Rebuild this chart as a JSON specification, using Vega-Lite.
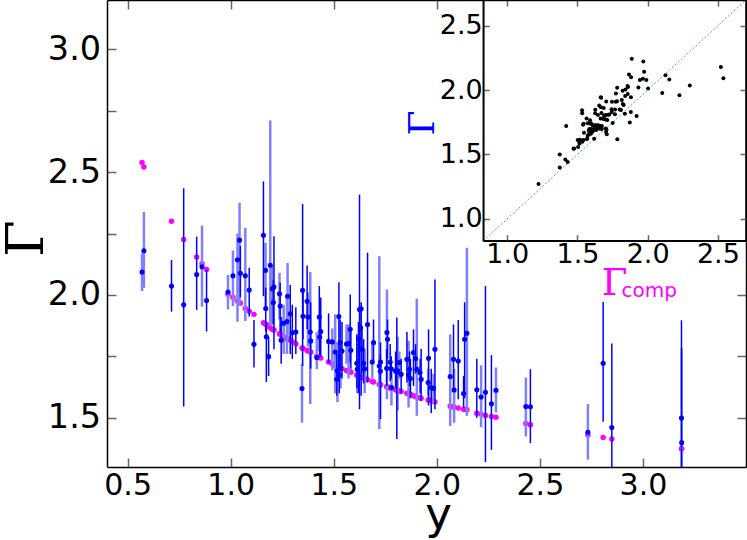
{
  "$schema": "https://vega.github.io/schema/vega-lite/v6.json",
  "width": 639,
  "height": 467,
  "autosize": "none",
  "padding": {"left": 107, "top": 0, "right": 1, "bottom": 73},
  "background": "white",
  "config": {"view": {"stroke": null}, "axis": {"grid": false, "labelFont": "DejaVu Sans", "labelColor": "black", "titleFontWeight": "normal", "labelFlush": false, "labelOverlap": false}},
  "datasets": {
    "d": [
      {"y":0.570,"gc":2.539,"g":2.093,"lo":2.016,"hi":2.169,"c":"l"},
      {"y":0.579,"gc":2.521,"g":2.180,"lo":2.029,"hi":2.338,"c":"l"},
      {"y":0.713,"gc":2.300,"g":2.036,"lo":1.932,"hi":2.142,"c":"d"},
      {"y":0.772,"gc":2.226,"g":1.960,"lo":1.546,"hi":2.434,"c":"d"},
      {"y":0.835,"gc":2.154,"g":2.083,"lo":1.939,"hi":2.237,"c":"d"},
      {"y":0.861,"gc":2.127,"g":2.115,"lo":1.952,"hi":2.282,"c":"l"},
      {"y":0.883,"gc":2.104,"g":1.977,"lo":1.851,"hi":2.104,"c":"d"},
      {"y":0.987,"gc":2.003,"g":2.012,"lo":1.941,"hi":2.081,"c":"l"},
      {"y":1.011,"gc":1.991,"g":2.078,"lo":1.955,"hi":2.181,"c":"l"},
      {"y":1.033,"gc":1.975,"g":2.143,"lo":1.891,"hi":2.250,"c":"l"},
      {"y":1.043,"gc":1.969,"g":2.223,"lo":1.955,"hi":2.375,"c":"l"},
      {"y":1.047,"gc":1.966,"g":2.088,"lo":1.990,"hi":2.200,"c":"d"},
      {"y":1.071,"gc":1.945,"g":2.078,"lo":1.894,"hi":2.273,"c":"l"},
      {"y":1.090,"gc":1.934,"g":2.020,"lo":1.912,"hi":2.111,"c":"d"},
      {"y":1.113,"gc":1.921,"g":1.799,"lo":1.705,"hi":1.898,"c":"d"},
      {"y":1.159,"gc":1.887,"g":2.243,"lo":1.995,"hi":2.462,"c":"d"},
      {"y":1.169,"gc":1.882,"g":2.100,"lo":1.941,"hi":2.212,"c":"l"},
      {"y":1.170,"gc":1.881,"g":1.945,"lo":1.850,"hi":2.030,"c":"d"},
      {"y":1.173,"gc":1.880,"g":1.830,"lo":1.646,"hi":1.887,"c":"d"},
      {"y":1.184,"gc":1.873,"g":1.749,"lo":1.670,"hi":1.830,"c":"d"},
      {"y":1.192,"gc":1.867,"g":2.121,"lo":1.874,"hi":2.710,"c":"l"},
      {"y":1.202,"gc":1.860,"g":2.025,"lo":1.880,"hi":2.120,"c":"l"},
      {"y":1.210,"gc":1.857,"g":2.032,"lo":1.779,"hi":2.239,"c":"d"},
      {"y":1.207,"gc":1.858,"g":1.969,"lo":1.880,"hi":2.060,"c":"d"},
      {"y":1.237,"gc":1.842,"g":2.005,"lo":1.900,"hi":2.090,"c":"l"},
      {"y":1.240,"gc":1.840,"g":1.955,"lo":1.850,"hi":2.050,"c":"d"},
      {"y":1.245,"gc":1.838,"g":1.816,"lo":1.720,"hi":1.910,"c":"d"},
      {"y":1.257,"gc":1.829,"g":1.885,"lo":1.760,"hi":1.960,"c":"l"},
      {"y":1.273,"gc":1.823,"g":1.892,"lo":1.760,"hi":2.000,"c":"l"},
      {"y":1.276,"gc":1.822,"g":1.995,"lo":1.820,"hi":2.130,"c":"l"},
      {"y":1.289,"gc":1.816,"g":1.923,"lo":1.760,"hi":2.040,"c":"d"},
      {"y":1.299,"gc":1.810,"g":1.846,"lo":1.740,"hi":1.960,"c":"d"},
      {"y":1.316,"gc":1.801,"g":1.849,"lo":1.760,"hi":1.950,"c":"d"},
      {"y":1.346,"gc":1.784,"g":1.619,"lo":1.480,"hi":1.720,"c":"l"},
      {"y":1.349,"gc":1.783,"g":2.019,"lo":1.711,"hi":2.370,"c":"d"},
      {"y":1.351,"gc":1.782,"g":1.913,"lo":1.820,"hi":2.020,"c":"d"},
      {"y":1.371,"gc":1.774,"g":1.974,"lo":1.860,"hi":2.120,"c":"d"},
      {"y":1.375,"gc":1.773,"g":1.910,"lo":1.790,"hi":2.010,"c":"l"},
      {"y":1.386,"gc":1.768,"g":1.849,"lo":1.556,"hi":2.093,"c":"l"},
      {"y":1.388,"gc":1.767,"g":1.813,"lo":1.700,"hi":1.970,"c":"d"},
      {"y":1.418,"gc":1.751,"g":1.745,"lo":1.698,"hi":1.848,"c":"l"},
      {"y":1.430,"gc":1.746,"g":1.910,"lo":1.772,"hi":2.036,"c":"d"},
      {"y":1.432,"gc":1.745,"g":1.829,"lo":1.750,"hi":1.920,"c":"d"},
      {"y":1.437,"gc":1.743,"g":1.851,"lo":1.750,"hi":1.990,"c":"d"},
      {"y":1.475,"gc":1.727,"g":1.811,"lo":1.722,"hi":1.925,"c":"d"},
      {"y":1.493,"gc":1.720,"g":1.809,"lo":1.693,"hi":1.863,"c":"l"},
      {"y":1.507,"gc":1.713,"g":1.768,"lo":1.600,"hi":1.921,"c":"l"},
      {"y":1.515,"gc":1.709,"g":1.657,"lo":1.590,"hi":1.760,"c":"d"},
      {"y":1.518,"gc":1.707,"g":1.692,"lo":1.564,"hi":1.807,"c":"l"},
      {"y":1.525,"gc":1.705,"g":1.912,"lo":1.684,"hi":2.052,"c":"d"},
      {"y":1.527,"gc":1.704,"g":1.675,"lo":1.600,"hi":1.760,"c":"d"},
      {"y":1.531,"gc":1.703,"g":1.806,"lo":1.700,"hi":1.900,"c":"d"},
      {"y":1.533,"gc":1.702,"g":1.702,"lo":1.620,"hi":1.790,"c":"l"},
      {"y":1.540,"gc":1.701,"g":1.772,"lo":1.660,"hi":1.890,"c":"d"},
      {"y":1.562,"gc":1.693,"g":1.800,"lo":1.720,"hi":1.880,"c":"l"},
      {"y":1.572,"gc":1.690,"g":1.802,"lo":1.660,"hi":1.880,"c":"l"},
      {"y":1.580,"gc":1.687,"g":1.860,"lo":1.725,"hi":2.002,"c":"d"},
      {"y":1.583,"gc":1.686,"g":1.775,"lo":1.700,"hi":1.860,"c":"d"},
      {"y":1.612,"gc":1.674,"g":1.722,"lo":1.620,"hi":1.840,"c":"d"},
      {"y":1.614,"gc":1.673,"g":1.698,"lo":1.600,"hi":1.800,"c":"l"},
      {"y":1.620,"gc":1.671,"g":1.822,"lo":1.600,"hi":1.890,"c":"d"},
      {"y":1.625,"gc":1.669,"g":1.941,"lo":1.535,"hi":2.408,"c":"d"},
      {"y":1.630,"gc":1.667,"g":1.867,"lo":1.770,"hi":1.950,"c":"l"},
      {"y":1.633,"gc":1.666,"g":1.944,"lo":1.590,"hi":1.970,"c":"d"},
      {"y":1.637,"gc":1.665,"g":1.779,"lo":1.680,"hi":1.870,"c":"d"},
      {"y":1.645,"gc":1.662,"g":1.722,"lo":1.640,"hi":1.820,"c":"d"},
      {"y":1.650,"gc":1.660,"g":1.700,"lo":1.600,"hi":1.780,"c":"l"},
      {"y":1.664,"gc":1.655,"g":1.880,"lo":1.644,"hi":2.172,"c":"d"},
      {"y":1.687,"gc":1.648,"g":1.727,"lo":1.660,"hi":1.800,"c":"l"},
      {"y":1.693,"gc":1.646,"g":1.806,"lo":1.730,"hi":1.900,"c":"d"},
      {"y":1.721,"gc":1.637,"g":1.711,"lo":1.454,"hi":2.158,"c":"l"},
      {"y":1.727,"gc":1.635,"g":1.727,"lo":1.495,"hi":1.807,"c":"d"},
      {"y":1.726,"gc":1.635,"g":1.690,"lo":1.620,"hi":1.760,"c":"d"},
      {"y":1.758,"gc":1.627,"g":1.847,"lo":1.576,"hi":2.022,"c":"l"},
      {"y":1.761,"gc":1.626,"g":1.820,"lo":1.740,"hi":1.900,"c":"d"},
      {"y":1.757,"gc":1.627,"g":1.702,"lo":1.630,"hi":1.780,"c":"d"},
      {"y":1.774,"gc":1.621,"g":1.727,"lo":1.650,"hi":1.800,"c":"d"},
      {"y":1.779,"gc":1.620,"g":1.700,"lo":1.660,"hi":1.750,"c":"d"},
      {"y":1.780,"gc":1.619,"g":1.623,"lo":1.550,"hi":1.700,"c":"l"},
      {"y":1.800,"gc":1.614,"g":1.691,"lo":1.620,"hi":1.770,"c":"d"},
      {"y":1.806,"gc":1.612,"g":1.687,"lo":1.414,"hi":1.908,"c":"d"},
      {"y":1.810,"gc":1.611,"g":1.691,"lo":1.530,"hi":1.830,"c":"l"},
      {"y":1.818,"gc":1.609,"g":1.725,"lo":1.660,"hi":1.770,"c":"l"},
      {"y":1.827,"gc":1.607,"g":1.677,"lo":1.600,"hi":1.740,"c":"d"},
      {"y":1.855,"gc":1.600,"g":1.738,"lo":1.644,"hi":1.849,"c":"d"},
      {"y":1.863,"gc":1.598,"g":1.675,"lo":1.542,"hi":1.813,"c":"l"},
      {"y":1.868,"gc":1.597,"g":1.698,"lo":1.630,"hi":1.770,"c":"d"},
      {"y":1.872,"gc":1.596,"g":1.660,"lo":1.580,"hi":1.740,"c":"d"},
      {"y":1.887,"gc":1.590,"g":1.766,"lo":1.630,"hi":1.860,"c":"d"},
      {"y":1.897,"gc":1.587,"g":1.741,"lo":1.680,"hi":1.800,"c":"d"},
      {"y":1.903,"gc":1.585,"g":1.698,"lo":1.508,"hi":1.985,"c":"l"},
      {"y":1.919,"gc":1.581,"g":1.684,"lo":1.600,"hi":1.740,"c":"d"},
      {"y":1.924,"gc":1.580,"g":1.657,"lo":1.570,"hi":1.780,"c":"d"},
      {"y":1.958,"gc":1.573,"g":1.644,"lo":1.590,"hi":1.700,"c":"l"},
      {"y":1.960,"gc":1.573,"g":1.742,"lo":1.550,"hi":1.860,"c":"d"},
      {"y":1.973,"gc":1.570,"g":1.623,"lo":1.520,"hi":1.700,"c":"d"},
      {"y":1.984,"gc":1.567,"g":1.620,"lo":1.560,"hi":1.680,"c":"l"},
      {"y":1.991,"gc":1.565,"g":1.779,"lo":1.535,"hi":2.063,"c":"d"},
      {"y":2.065,"gc":1.547,"g":1.668,"lo":1.467,"hi":1.840,"c":"l"},
      {"y":2.081,"gc":1.544,"g":1.738,"lo":1.610,"hi":1.880,"c":"d"},
      {"y":2.084,"gc":1.543,"g":1.613,"lo":1.480,"hi":1.700,"c":"l"},
      {"y":2.104,"gc":1.540,"g":1.731,"lo":1.576,"hi":1.898,"c":"d"},
      {"y":2.130,"gc":1.535,"g":1.599,"lo":1.540,"hi":1.670,"c":"d"},
      {"y":2.135,"gc":1.534,"g":1.820,"lo":1.580,"hi":1.970,"c":"d"},
      {"y":2.146,"gc":1.533,"g":1.844,"lo":1.508,"hi":2.192,"c":"l"},
      {"y":2.194,"gc":1.519,"g":1.614,"lo":1.500,"hi":1.740,"c":"d"},
      {"y":2.215,"gc":1.515,"g":1.585,"lo":1.462,"hi":1.714,"c":"l"},
      {"y":2.236,"gc":1.510,"g":1.604,"lo":1.320,"hi":2.036,"c":"d"},
      {"y":2.265,"gc":1.505,"g":1.557,"lo":1.370,"hi":1.755,"c":"d"},
      {"y":2.287,"gc":1.502,"g":1.612,"lo":1.522,"hi":1.705,"c":"l"},
      {"y":2.432,"gc":1.477,"g":1.546,"lo":1.424,"hi":1.664,"c":"l"},
      {"y":2.454,"gc":1.472,"g":1.545,"lo":1.397,"hi":1.698,"c":"d"},
      {"y":2.733,"gc":1.430,"g":1.441,"lo":1.330,"hi":1.556,"c":"l"},
      {"y":2.807,"gc":1.420,"g":1.722,"lo":1.484,"hi":1.971,"c":"d"},
      {"y":2.849,"gc":1.414,"g":1.461,"lo":1.250,"hi":1.802,"c":"d"},
      {"y":3.187,"gc":1.374,"g":1.499,"lo":1.250,"hi":1.897,"c":"d"},
      {"y":3.188,"gc":1.374,"g":1.399,"lo":1.250,"hi":1.783,"c":"l"},
      {"y":4.600,"gc":1.223,"g":1.271,"lo":1.200,"hi":1.350,"c":"d"}
    ]
  },
  "layer": [
    {
      "data": {"name": "d"},
      "layer": [
        {
          "mark": {"type": "point", "filled": true, "size": 30, "color": "#ff00ff", "opacity": 1, "clip": true},
          "encoding": {
            "x": {"field": "y", "type": "quantitative", "scale": {"domain": [0.4, 3.5], "nice": false, "zero": false},
              "axis": {"orient": "bottom", "values": [0.5, 1, 1.5, 2, 2.5, 3], "format": ".1f", "tickSize": -9, "tickColor": "#666", "tickWidth": 1.5, "domainColor": "black", "domainWidth": 1.5, "labelFontSize": 30, "labelPadding": 12, "title": "y", "titleFont": "DejaVu Sans", "titleFontSize": 45, "titleColor": "black", "titleX": 331, "titleY": 61, "titleBaseline": "alphabetic", "titleAlign": "center", "zindex": 0}},
            "y": {"field": "gc", "type": "quantitative", "scale": {"domain": [1.3, 3.2], "nice": false, "zero": false},
              "axis": {"orient": "left", "values": [1.5, 1.75, 2, 2.25, 2.5, 2.75, 3], "labelExpr": "datum.value % 0.5 == 0 ? format(datum.value, '.1f') : ''", "tickSize": -9, "tickColor": "#666", "tickWidth": 1.5, "domainColor": "black", "domainWidth": 1.5, "labelFontSize": 33.5, "labelPadding": 15.4, "title": "Γ", "titleFont": "DejaVu Serif", "titleFontSize": 53, "titleColor": "black", "titleAngle": 270, "titleX": -65, "titleY": 238, "titleBaseline": "alphabetic", "titleAlign": "center", "zindex": 0}}
          }
        },
        {
          "transform": [{"filter": "datum.c == 'l'"}],
          "mark": {"type": "rule", "clip": true, "color": "#8080ff", "strokeWidth": 2.5},
          "encoding": {"x": {"field": "y", "type": "quantitative"}, "y": {"field": "lo", "type": "quantitative"}, "y2": {"field": "hi"}}
        },
        {
          "transform": [{"filter": "datum.c == 'd'"}],
          "mark": {"type": "rule", "clip": true, "color": "#0000ff", "strokeWidth": 1.5},
          "encoding": {"x": {"field": "y", "type": "quantitative"}, "y": {"field": "lo", "type": "quantitative"}, "y2": {"field": "hi"}}
        },
        {
          "mark": {"type": "point", "filled": true, "size": 26, "color": "#0000ff", "opacity": 1, "clip": true},
          "encoding": {"x": {"field": "y", "type": "quantitative"}, "y": {"field": "g", "type": "quantitative"}}
        }
      ]
    },
    {
      "data": {"name": "d"},
      "mark": {"type": "point", "opacity": 0},
      "encoding": {
        "x": {"field": "y", "type": "quantitative", "scale": {"domain": [0.4, 3.5], "nice": false, "zero": false},
          "axis": {"orient": "top", "values": [0.5, 1, 1.5, 2, 2.5, 3], "labels": false, "tickSize": -9, "tickColor": "#666", "tickWidth": 1.5, "domainColor": "black", "domainWidth": 1.5, "title": null, "zindex": 0}},
        "y": {"field": "g", "type": "quantitative", "scale": {"domain": [1.3, 3.2], "nice": false, "zero": false},
          "axis": {"orient": "right", "values": [1.5, 1.75, 2, 2.25, 2.5, 2.75, 3], "labels": false, "tickSize": -9, "tickColor": "#666", "tickWidth": 1.5, "domainColor": "black", "domainWidth": 1.5, "title": null, "zindex": 0}}
      }
    },
    {
      "layer": [
        {
          "data": {"values": [{"frame": "inset"}]},
          "mark": {"type": "rect", "fill": "white", "stroke": "black", "strokeWidth": 1.5},
          "encoding": {
            "x": {"datum": 0.83, "type": "quantitative", "scale": {"domain": [0.83, 2.7], "range": [376.3, 639], "nice": false, "zero": false},
              "axis": {"orient": "bottom", "offset": -226.3, "values": [1, 1.5, 2, 2.5], "format": ".1f", "tickSize": -6, "tickColor": "#666", "tickWidth": 1.5, "domainColor": "black", "domainWidth": 1.5, "labelFontSize": 27, "labelPadding": 7, "title": "Γ", "titleFont": "DejaVu Serif", "titleFontSize": 37, "titleColor": "#ff00ff", "titleX": 520, "titleY": 53.3, "titleAlign": "right", "titleBaseline": "alphabetic", "zindex": 1}},
            "x2": {"datum": 2.7},
            "y": {"datum": 0.83, "type": "quantitative", "scale": {"domain": [0.83, 2.7], "range": [240.7, 0], "nice": false, "zero": false},
              "axis": {"orient": "left", "offset": -376.3, "values": [1, 1.5, 2, 2.5], "format": ".1f", "tickSize": -6, "tickColor": "#666", "tickWidth": 1.5, "domainColor": "black", "domainWidth": 1.5, "labelFontSize": 27, "labelPadding": 7, "title": "Γ", "titleFont": "DejaVu Serif", "titleFontSize": 36, "titleColor": "#0000ff", "titleAngle": 270, "titleX": -50.3, "titleY": 122.5, "titleAlign": "center", "titleBaseline": "alphabetic", "zindex": 1}},
            "y2": {"datum": 2.7}
          }
        },
        {
          "data": {"values": [{"v": 0.83}, {"v": 2.7}]},
          "mark": {"type": "line", "color": "#3cb4a8", "strokeWidth": 1, "strokeDash": [2, 2]},
          "encoding": {"x": {"field": "v", "type": "quantitative"}, "y": {"field": "v", "type": "quantitative"}}
        },
        {
          "data": {"name": "d"},
          "mark": {"type": "point", "filled": true, "size": 16, "color": "black", "opacity": 1},
          "encoding": {"x": {"field": "gc", "type": "quantitative"}, "y": {"field": "g", "type": "quantitative"}}
        }
      ]
    },
    {
      "data": {"name": "d"},
      "mark": {"type": "point", "opacity": 0},
      "encoding": {
        "x": {"field": "gc", "type": "quantitative", "scale": {"domain": [0.83, 2.7], "range": [376.3, 639], "nice": false, "zero": false},
          "axis": {"orient": "top", "values": [1, 1.5, 2, 2.5], "labels": false, "tickSize": -6, "tickColor": "#666", "tickWidth": 1.5, "domainColor": "black", "domainWidth": 1.5, "title": null, "zindex": 1}},
        "y": {"field": "g", "type": "quantitative", "scale": {"domain": [0.83, 2.7], "range": [240.7, 0], "nice": false, "zero": false},
          "axis": {"orient": "right", "values": [1, 1.5, 2, 2.5], "labels": false, "tickSize": -6, "tickColor": "#666", "tickWidth": 1.5, "domainColor": "black", "domainWidth": 1.5, "title": null, "zindex": 1}}
      }
    },
    {
      "data": {"name": "d"},
      "mark": {"type": "point", "opacity": 0},
      "encoding": {
        "x": {"field": "gc", "type": "quantitative", "scale": {"domain": [0.83, 2.7], "range": [376.3, 639], "nice": false, "zero": false},
          "axis": {"orient": "bottom", "offset": -226.3, "labels": false, "ticks": false, "domain": false, "title": "comp", "titleFont": "DejaVu Sans", "titleFontSize": 20, "titleColor": "#ff00ff", "titleX": 514, "titleY": 56, "titleAlign": "left", "titleBaseline": "alphabetic", "zindex": 1}}
      }
    }
  ],
  "resolve": {"scale": {"x": "independent", "y": "independent"}, "axis": {"x": "independent", "y": "independent"}}
}
